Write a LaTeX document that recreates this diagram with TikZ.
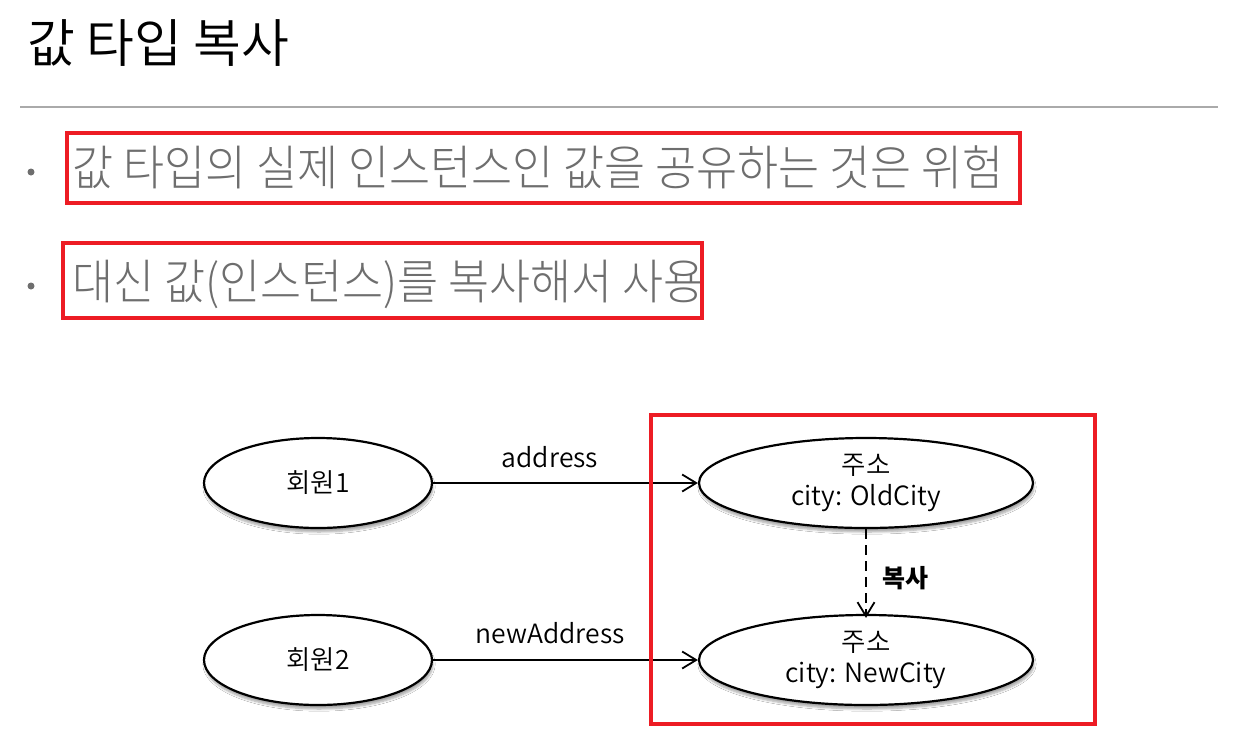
\documentclass[tikz,border=0pt]{standalone}
\usepackage{fontspec}
\setmainfont{Noto Sans CJK KR}
\newfontfamily\condfont{Noto Sans CJK KR}[FakeStretch=0.93, UprightFont={* Light}]
\newfontfamily\demifont{Noto Sans CJK KR}[UprightFont={* DemiLight}]
\usetikzlibrary{arrows.meta,shapes.geometric,shadows.blur}
\definecolor{redbox}{HTML}{ED1C24}
\definecolor{bulgray}{HTML}{6E6E6E}
\definecolor{rulegray}{HTML}{AAAAAA}
\tikzset{
  hl/.style={draw=redbox, line width=4pt},
  obj/.style={ellipse, draw=black, line width=2.2pt, fill=white, minimum width=228pt, minimum height=90pt, inner sep=0pt,
     font=\demifont\fontsize{26.5}{31}\selectfont, align=center,
     blur shadow={shadow xshift=1pt, shadow yshift=-4pt, shadow blur steps=6, shadow opacity=35}},
  bigobj/.style={obj, minimum width=334pt},
  ref/.style={line width=1.8pt, -{Straight Barb[length=14pt,width=17pt,line width=1.8pt]}},
  lbl/.style={font=\demifont\fontsize{26.5}{30}\selectfont, anchor=base},
  bul/.style={anchor=base west, text=bulgray, font=\condfont\fontsize{48}{56}\selectfont, inner sep=0pt}
}
\begin{document}
\begin{tikzpicture}[x=1pt,y=-1pt]
\useasboundingbox[fill=white] (0,0) rectangle (1239,740);
% title
\node[anchor=base west, inner sep=0pt, font=\demifont\fontsize{52}{60}\selectfont] (title) at (27,62) {값 타입 복사};
\draw[rulegray, line width=1.2pt] (20,107) coordinate (r1) -- (1218,107) coordinate (r2);
% bullets
\fill[bulgray] (31,172) circle (3.5pt);
\fill[bulgray] (31,286) circle (3.5pt);
\node[bul] (b1) at (72,185) {값 타입의 실제 인스턴스인 값을 공유하는 것은 위험};
\node[bul] (b2) at (72,299) {대신 값(인스턴스)를 복사해서 사용};
\draw[hl] (67,133) rectangle (1020,203);
\draw[hl] (63,243) rectangle (702,318);
% diagram
\node[obj] (m1) at (318,483) {회원1};
\node[obj] (m2) at (318,660) {회원2};
\node[bigobj] (a1) at (866,483) {주소\\city: OldCity};
\node[bigobj] (a2) at (866,660) {주소\\city: NewCity};
\draw[ref] (m1) -- (a1);
\draw[ref] (m2) -- (a2);
\node[lbl] (la) at (550,467) {address};
\node[lbl] (lb) at (550,643) {newAddress};
\draw[ref, dash pattern=on 10pt off 6pt] (a1.south) -- ([yshift=-4pt]a2.north);
\node[font=\bfseries\fontsize{25}{30}\selectfont] (copy) at (905,578) {복사};
\draw[hl] (651,415) rectangle (1095,724);
\end{tikzpicture}
\end{document}
